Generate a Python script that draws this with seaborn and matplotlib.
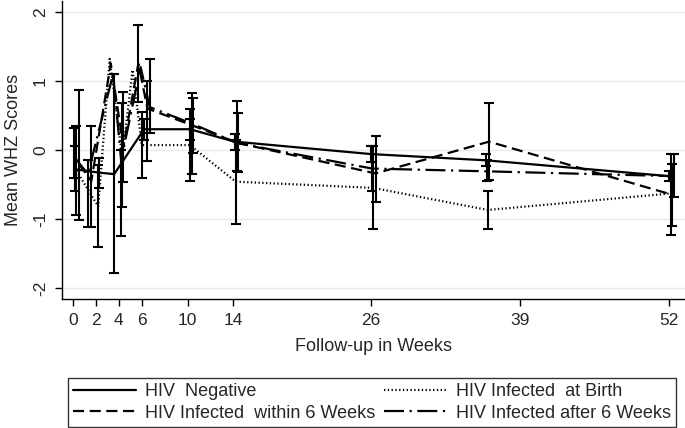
import numpy as np
import pandas as pd
import matplotlib
matplotlib.use("Agg")
import matplotlib.pyplot as plt
from matplotlib.lines import Line2D
import seaborn as sns

# ---- Data ----
GROUPS = ["HIV  Negative", "HIV Infected  at Birth",
          "HIV Infected  within 6 Weeks", "HIV Infected after 6 Weeks"]

neg_weeks = [0.2, 2.3, 3.6, 6.2, 10.2, 14.1, 26.0, 36.0, 52.0]
neg_mean = [-0.28, -0.33, -0.35, 0.3, 0.3, 0.12, -0.06, -0.15, -0.38]
neg_lo = [-0.6, -0.55, -1.79, 0.15, 0.15, 0.0, -0.18, -0.24, -0.45]
neg_hi = [0.05, -0.12, 1.1, 0.45, 0.45, 0.23, 0.06, -0.06, -0.3]

birth_weeks = [0.3, 2.2, 3.2, 4.3, 5.2, 6.0, 10.2, 14.2, 26.2, 36.2, 52.2]
birth_mean = [-0.3, -0.82, 1.32, -0.1, 1.16, 0.07, 0.07, -0.46, -0.55, -0.87, -0.63]
birth_lo = [-0.94, -1.41, np.nan, -0.82, np.nan, -0.41, -0.45, -1.07, -1.15, -1.15, -1.23]
birth_hi = [0.35, -0.22, np.nan, 0.68, np.nan, 0.55, 0.6, 0.15, 0.06, -0.6, -0.06]

within_weeks = [0.5, 1.6, 3.3, 4.4, 5.7, 6.5, 10.5, 14.4, 26.4, 36.3, 52.3]
within_mean = [-0.2, -0.45, 1.25, 0.05, 1.25, 0.6, 0.35, 0.1, -0.34, 0.12, -0.65]
within_lo = [-1.01, -1.11, np.nan, -0.46, 0.7, -0.16, -0.05, -0.32, -0.75, -0.43, -1.1]
within_hi = [0.87, 0.35, np.nan, 0.84, 1.81, 1.0, 0.75, 0.53, 0.2, 0.68, -0.2]

after_weeks = [0.1, 1.3, 3.5, 4.2, 5.9, 6.7, 10.4, 14.3, 26.1, 36.1, 52.4]
after_mean = [-0.1, -0.35, 1.1, -0.15, 1.2, 0.62, 0.38, 0.1, -0.27, -0.31, -0.38]
after_lo = [-0.4, -1.11, np.nan, -1.25, np.nan, 0.25, -0.35, -0.3, -0.6, -0.45, -0.68]
after_hi = [0.32, -0.15, np.nan, 0.0, np.nan, 1.32, 0.83, 0.71, 0.06, -0.15, -0.06]

x_ticks = [0, 2, 4, 6, 10, 14, 26, 39, 52]
y_ticks = [-2, -1, 0, 1, 2]


def make_frame(name, weeks, mean, lo, hi):
    return pd.DataFrame({"group": name, "week": weeks, "whz": mean, "lo": lo, "hi": hi})


df = pd.concat([
    make_frame(GROUPS[0], neg_weeks, neg_mean, neg_lo, neg_hi),
    make_frame(GROUPS[1], birth_weeks, birth_mean, birth_lo, birth_hi),
    make_frame(GROUPS[2], within_weeks, within_mean, within_lo, within_hi),
    make_frame(GROUPS[3], after_weeks, after_mean, after_lo, after_hi),
], ignore_index=True)

# ---- Style ----
sns.set_style("white")
plt.rcParams["font.family"] = ["Liberation Sans", "DejaVu Sans"]
plt.rcParams["font.size"] = 13

DASHES = {
    GROUPS[0]: "",
    GROUPS[1]: (0.6, 1.1),
    GROUPS[2]: (5, 2.5),
    GROUPS[3]: (9, 2.5, 1, 2.5),
}
LW = 1.6

fig = plt.figure(figsize=(6.85, 4.28), dpi=100)
ax = fig.add_axes([0.0905, 0.3014, 0.9095, 0.6966])

for y in y_ticks:
    ax.axhline(y, color="#e3ecee", lw=1.0, zorder=0)

sns.lineplot(data=df, x="week", y="whz", style="group", dashes=DASHES,
             color="black", linewidth=LW, estimator=None, sort=False,
             legend=False, ax=ax)

bars = df.dropna(subset=["lo"])
ax.errorbar(bars["week"], bars["whz"],
            yerr=[bars["whz"] - bars["lo"], bars["hi"] - bars["whz"]],
            fmt="none", ecolor="black", elinewidth=1.5, capsize=3.5, capthick=1.5)

ax.set_xlim(-0.96, 53.4)
ax.set_ylim(-2.16, 2.16)
ax.set_xticks(x_ticks)
ax.set_yticks(y_ticks)
ax.set_yticklabels([str(v) for v in y_ticks], rotation=90, va="center")
ax.tick_params(axis="both", direction="out", length=5, width=1, color="black",
               labelsize=12.5, left=True, bottom=True, pad=5)
for side in ["top", "right"]:
    ax.spines[side].set_visible(False)
for side in ["left", "bottom"]:
    ax.spines[side].set_color("black")
    ax.spines[side].set_linewidth(1)

ax.set_xlabel("Follow-up in Weeks", fontsize=13, labelpad=7)
ax.set_ylabel("Mean WHZ Scores", fontsize=13, labelpad=8)

# ---- Legend (row order: Negative, Birth / Within, After) ----
order = [GROUPS[0], GROUPS[2], GROUPS[1], GROUPS[3]]
handles = []
for g in order:
    h = Line2D([], [], color="black", lw=LW)
    if DASHES[g]:
        h.set_dashes(DASHES[g])
    handles.append(h)
leg = fig.legend(handles, order, ncol=2, loc="lower left",
                 bbox_to_anchor=(0.0993, 0.0023, 0.8876, 0.1355), mode="expand",
                 fontsize=13, handlelength=3.45, handletextpad=0.5,
                 borderaxespad=0, borderpad=0.3, labelspacing=0.25, columnspacing=0.8,
                 frameon=True, fancybox=False, edgecolor="black")
leg.get_frame().set_linewidth(1)

fig.savefig("out.png", dpi=100)
